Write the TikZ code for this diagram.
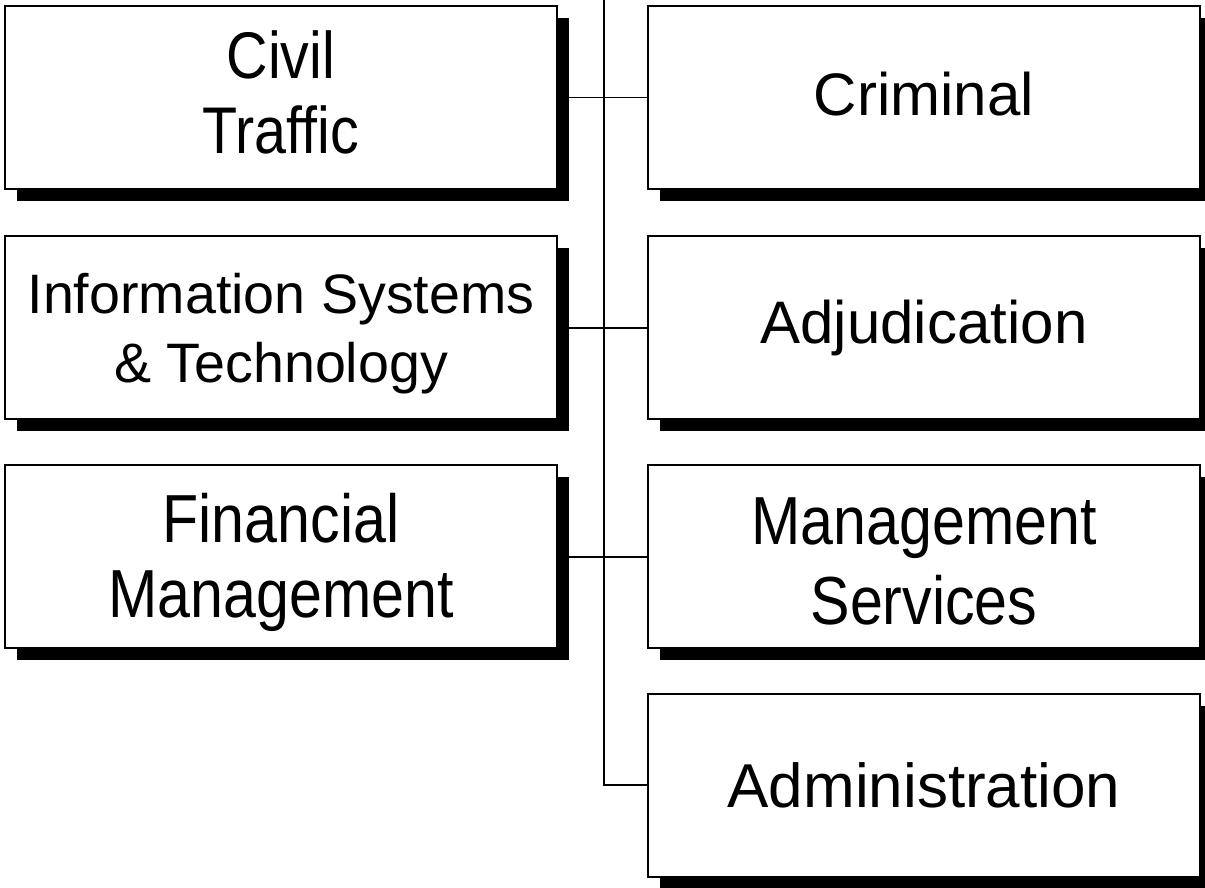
\documentclass[tikz,border=0pt]{standalone}
\usepackage{fontspec}
\setmainfont{Liberation Sans}
\newfontfamily\tallsf[FakeStretch=0.87]{Liberation Sans}
\usetikzlibrary{shadows}

\begin{document}
\begin{tikzpicture}[x=0.5pt,y=0.5pt,
    office/.style={draw, line width=1pt, fill=white, minimum width=276pt, minimum height=91.5pt,
        inner sep=0pt, outer sep=0pt, align=center, font=\fontsize{30}{36}\selectfont,
        drop shadow={fill=black, opacity=1, shadow xshift=6pt, shadow yshift=-6pt}},
    link/.style={line width=0.8pt}]
\useasboundingbox (0,0) rectangle (1205,888);
    % Left column
    \node[office, font=\fontsize{33}{37.5}\tallsf] (civil) at (281,790.5) {Civil\\Traffic\rule[-5pt]{0pt}{5pt}};
    \node[office, font=\fontsize{27.8}{34.5}\selectfont] (infosys) at (281,560) {\rule{0pt}{26pt}Information Systems\\\& Technology};
    \node[office, font=\fontsize{34}{37.5}\tallsf] (finance) at (281,331) {\rule{0pt}{30pt}Financial\\Management};
    % Right column
    \node[office] (criminal) at (924,790.5) {Criminal\rule[-4pt]{0pt}{4pt}};
    \node[office] (adjud) at (924,560) {Adjudication};
    \node[office, font=\fontsize{34}{40}\tallsf] (mgmt) at (924,331) {\rule{0pt}{28pt}Management\\Services};
    \node[office, font=\fontsize{31}{36}\selectfont] (admin) at (924,102.5) {Administration};
    % Lines
    \coordinate (spine) at (604,888);
    \draw[line width=1pt] (spine) |- (admin.west);
    \draw[link] (civil.east) -- (criminal.west);
    \draw[link] (infosys.east) -- (adjud.west);
    \draw[link] (finance.east) -- (mgmt.west);
\end{tikzpicture}
\end{document}
